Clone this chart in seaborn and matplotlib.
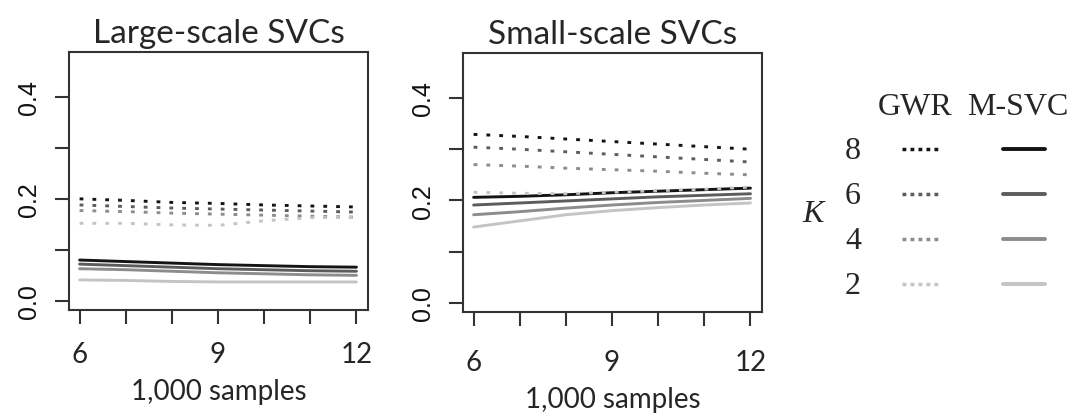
import matplotlib
matplotlib.use("Agg")
import matplotlib.pyplot as plt
import seaborn as sns
from matplotlib.lines import Line2D

# sample size in 1,000s
samples = [6, 7, 8, 9, 10, 11, 12]
k_values = [8, 6, 4, 2]

# large-scale SVCs, one row per K (8, 6, 4, 2)
large_gwr = [
    [0.200, 0.197, 0.193, 0.191, 0.188, 0.186, 0.184],
    [0.188, 0.185, 0.182, 0.180, 0.178, 0.176, 0.174],
    [0.177, 0.175, 0.172, 0.170, 0.168, 0.166, 0.164],
    [0.152, 0.152, 0.149, 0.148, 0.157, 0.163, 0.164],
]
large_msvc = [
    [0.080, 0.077, 0.074, 0.071, 0.069, 0.067, 0.066],
    [0.072, 0.069, 0.066, 0.063, 0.061, 0.059, 0.058],
    [0.063, 0.061, 0.058, 0.055, 0.053, 0.051, 0.050],
    [0.041, 0.040, 0.038, 0.037, 0.037, 0.037, 0.037],
]

# small-scale SVCs
small_gwr = [
    [0.329, 0.325, 0.320, 0.315, 0.310, 0.305, 0.300],
    [0.304, 0.300, 0.295, 0.290, 0.285, 0.280, 0.275],
    [0.270, 0.267, 0.263, 0.260, 0.257, 0.253, 0.250],
    [0.216, 0.214, 0.213, 0.216, 0.219, 0.222, 0.226],
]
small_msvc = [
    [0.206, 0.208, 0.211, 0.215, 0.218, 0.221, 0.224],
    [0.191, 0.195, 0.199, 0.203, 0.207, 0.210, 0.213],
    [0.172, 0.178, 0.185, 0.191, 0.196, 0.200, 0.204],
    [0.148, 0.160, 0.172, 0.180, 0.186, 0.191, 0.195],
]

titles = ["Large-scale SVCs", "Small-scale SVCs"]
greys = ["#141414", "#5c5c5c", "#8c8c8c", "#c4c4c4"]
dots = (0, (1.3, 3.1))
frame = "#333333"

sns.set_style("ticks")
plt.rcParams["font.family"] = ["Lato", "DejaVu Sans"]

W, H = 1075, 414
fig = plt.figure(figsize=(W / 100, H / 100), dpi=100)
ax_l = fig.add_axes([69 / W, 1 - 311 / H, 299 / W, 258 / H])
ax_r = fig.add_axes([463 / W, 1 - 313 / H, 299 / W, 259 / H])

panels = [(ax_l, large_gwr, large_msvc, 12, 8), (ax_r, small_gwr, small_msvc, 16.5, 8)]
for (ax, gwr, msvc, tpad, lpad), title in zip(panels, titles):
    for vals, col in zip(msvc, greys):
        sns.lineplot(x=samples, y=vals, ax=ax, color=col, linewidth=2.1, legend=False)
    for vals, col in zip(gwr, greys):
        sns.lineplot(x=samples, y=vals, ax=ax, color=col, linewidth=2.1, legend=False)
        ax.lines[-1].set_linestyle(dots)

    ax.set_xlim(5.77, 12.25)
    ax.set_ylim(-0.018, 0.488)
    ax.set_xticks(samples)
    ax.set_xticklabels(["6", "", "", "9", "", "", "12"])
    ax.set_yticks([0.0, 0.1, 0.2, 0.3, 0.4])
    ax.set_yticklabels(["0.0", "", "0.2", "", "0.4"])
    ax.tick_params(axis="both", direction="out", length=10, width=1.5, color=frame)
    ax.tick_params(axis="x", labelsize=20, pad=tpad)
    ax.tick_params(axis="y", labelsize=18, pad=10)
    for lab in ax.get_yticklabels():
        lab.set_fontfamily(["Liberation Sans", "DejaVu Sans"])
        lab.set_rotation(90)
        lab.set_va("center")
        lab.set_color("#111111")
    for sp in ax.spines.values():
        sp.set_visible(True)
        sp.set_color(frame)
        sp.set_linewidth(1.5)
    ax.set_title(title, fontsize=24, pad=7)
    ax.set_xlabel("1,000 samples", fontsize=20, labelpad=lpad)
    ax.set_ylabel("")

# legend table on the right
serif = ["Liberation Serif", "DejaVu Serif"]
fig.text(915 / W, 1 - 115 / H, "GWR", ha="center", va="baseline", fontsize=23, family=serif)
fig.text(1018 / W, 1 - 115 / H, "M-SVC", ha="center", va="baseline", fontsize=23, family=serif)
fig.text(813 / W, 1 - 222 / H, "K", ha="center", va="baseline", fontsize=23, family=serif, style="italic")
for i, (k, col) in enumerate(zip(k_values, greys)):
    y = 150 + i * 45
    fig.text(853 / W, 1 - (y + 9) / H, str(k), ha="center", va="baseline", fontsize=23, family=serif)
    fig.add_artist(Line2D([902 / W, 940 / W], [1 - y / H] * 2, color=col, lw=2.5,
                          linestyle=(0, (1.1, 1.2)), transform=fig.transFigure))
    fig.add_artist(Line2D([1003 / W, 1045 / W], [1 - y / H] * 2, color=col, lw=2.8,
                          transform=fig.transFigure))

fig.savefig("out.png", dpi=100)
